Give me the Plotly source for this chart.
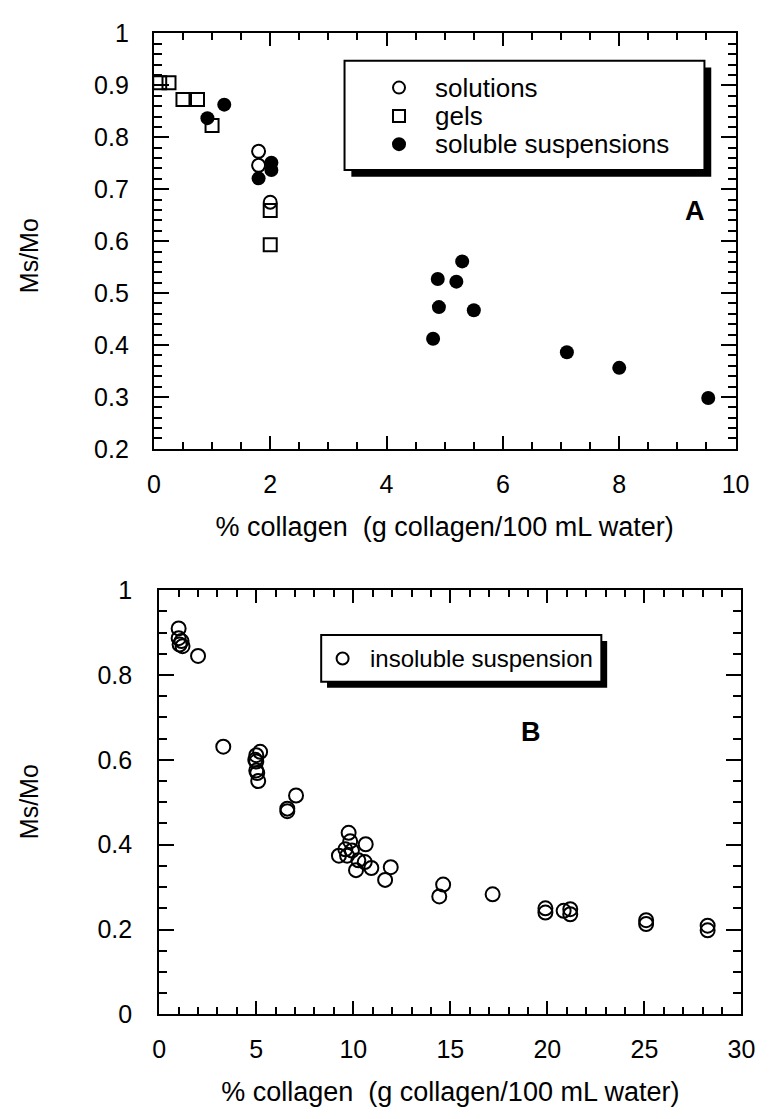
import plotly.graph_objects as go

W, H = 770, 1119

# ---------------- Panel A data ----------------
sol_x = [1.8, 1.8, 2.0]
sol_y = [0.773, 0.746, 0.675]

gel_x = [0.1, 0.26, 0.5, 0.75, 1.0, 2.0, 2.0]
gel_y = [0.905, 0.905, 0.873, 0.873, 0.823, 0.659, 0.593]

ss_x = [0.92, 1.21, 1.8, 2.02, 2.02, 4.8, 4.88, 4.9, 5.2, 5.3, 5.5, 7.1, 8.0, 9.53]
ss_y = [0.837, 0.863, 0.721, 0.751, 0.737, 0.412, 0.527, 0.473, 0.522, 0.561, 0.467, 0.386, 0.356, 0.298]

# ---------------- Panel B data ----------------
ins_x = [1.0, 1.0, 1.15, 1.05, 1.2, 2.0, 3.3,
         5.0, 5.2, 4.95, 5.0, 5.0, 5.05, 5.1,
         6.6, 6.6, 7.05,
         9.26, 9.59, 9.68, 9.76, 9.84, 9.93, 10.14, 10.26, 10.59, 10.64, 10.93,
         11.64, 11.93, 14.43, 14.63, 17.18,
         19.9, 19.9, 20.84, 21.18, 21.18, 25.09, 25.09, 28.26, 28.26]
ins_y = [0.910, 0.887, 0.880, 0.872, 0.868, 0.845, 0.631,
         0.611, 0.619, 0.600, 0.596, 0.575, 0.569, 0.550,
         0.485, 0.479, 0.516,
         0.374, 0.389, 0.374, 0.428, 0.408, 0.386, 0.340, 0.363, 0.359, 0.401, 0.345,
         0.317, 0.347, 0.278, 0.306, 0.283,
         0.250, 0.240, 0.244, 0.248, 0.236, 0.222, 0.213, 0.209, 0.198]

# ---------------- tick labels ----------------
a_xticks = [0, 2, 4, 6, 8, 10]
a_xticktext = ["0", "2", "4", "6", "8", "10"]
a_yticks = [0.2, 0.3, 0.4, 0.5, 0.6, 0.7, 0.8, 0.9, 1.0]
a_yticktext = ["0.2", "0.3", "0.4", "0.5", "0.6", "0.7", "0.8", "0.9", "1"]
b_xticks = [0, 5, 10, 15, 20, 25, 30]
b_xticktext = ["0", "5", "10", "15", "20", "25", "30"]
b_yticks = [0, 0.2, 0.4, 0.6, 0.8, 1.0]
b_yticktext = ["0", "0.2", "0.4", "0.6", "0.8", "1"]

xtitle = "% collagen  (g collagen/100 mL water)"
ytitle = "Ms/Mo"
legA = ["solutions", "gels", "soluble suspensions"]
legB = ["insoluble suspension"]

FONT = "Liberation Sans, Arial, Helvetica, sans-serif"

def px(x):
    return x / W

def py(y):
    return 1 - y / H

fig = go.Figure()

mk_open = dict(symbol="circle-open", size=13, color="black", line=dict(width=2, color="black"))
fig.add_trace(go.Scatter(x=sol_x, y=sol_y, mode="markers", name=legA[0],
                         marker=mk_open, xaxis="x", yaxis="y", showlegend=False))
fig.add_trace(go.Scatter(x=gel_x, y=gel_y, mode="markers", name=legA[1],
                         marker=dict(symbol="square-open", size=13, color="black",
                                     line=dict(width=2, color="black")),
                         xaxis="x", yaxis="y", showlegend=False))
fig.add_trace(go.Scatter(x=ss_x, y=ss_y, mode="markers", name=legA[2],
                         marker=dict(symbol="circle", size=14, color="black"),
                         xaxis="x", yaxis="y", showlegend=False))
fig.add_trace(go.Scatter(x=ins_x, y=ins_y, mode="markers", name=legB[0],
                         marker=dict(symbol="circle-open", size=14, color="black",
                                     line=dict(width=2, color="black")),
                         xaxis="x2", yaxis="y2", showlegend=False))

def axis_common():
    return dict(showgrid=False, zeroline=False, showline=True, linecolor="black",
                linewidth=2, mirror="ticks", ticks="inside", tickcolor="black",
                tickwidth=2, tickfont=dict(family=FONT, size=25, color="black"))

A_dom_x = [px(151), px(749)]
A_dom_y = [py(446), py(20)]
B_dom_x = [px(156.5), px(755)]
B_dom_y = [py(1026), py(591)]

fig.update_layout(
    width=W, height=H, margin=dict(l=0, r=0, t=0, b=0),
    paper_bgcolor="white", plot_bgcolor="white",
    xaxis=dict(**axis_common(), domain=A_dom_x, anchor="y", range=[0, 10],
               tickmode="array", tickvals=a_xticks, ticktext=a_xticktext, ticklen=13,
               ticklabelstandoff=12,
               minor=dict(dtick=0.5, ticklen=7, ticks="inside", tickcolor="black", tickwidth=2),
               title=dict(text=xtitle, font=dict(family=FONT, size=27, color="black"), standoff=20)),
    yaxis=dict(**axis_common(), domain=A_dom_y, anchor="x", range=[0.2, 1.0],
               tickmode="array", tickvals=a_yticks, ticktext=a_yticktext, ticklen=15,
               ticklabelstandoff=18,
               minor=dict(dtick=0.02, ticklen=8, ticks="inside", tickcolor="black", tickwidth=2)),
    xaxis2=dict(**axis_common(), domain=B_dom_x, anchor="y2", range=[0, 30],
                tickmode="array", tickvals=b_xticks, ticktext=b_xticktext, ticklen=13,
                ticklabelstandoff=12,
                minor=dict(dtick=1, ticklen=7, ticks="inside", tickcolor="black", tickwidth=2),
                title=dict(text=xtitle, font=dict(family=FONT, size=27, color="black"), standoff=20)),
    yaxis2=dict(**axis_common(), domain=B_dom_y, anchor="x2", range=[0, 1.0],
                tickmode="array", tickvals=b_yticks, ticktext=b_yticktext, ticklen=15,
                ticklabelstandoff=20,
                minor=dict(dtick=0.05, ticklen=8, ticks="inside", tickcolor="black", tickwidth=2)),
)

shapes = []
annotations = []

def legend_box(x0, y0, x1, y1, sh):
    shapes.append(dict(type="rect", xref="paper", yref="paper",
                       x0=px(x0 + sh), x1=px(x1 + sh), y0=py(y1 + sh), y1=py(y0 + sh),
                       fillcolor="black", line=dict(width=0), layer="above"))
    shapes.append(dict(type="rect", xref="paper", yref="paper",
                       x0=px(x0), x1=px(x1), y0=py(y1), y1=py(y0),
                       fillcolor="white", line=dict(color="black", width=2), layer="above"))

def sym(kind, cx, cy, d, filled):
    shapes.append(dict(type=kind, xref="paper", yref="paper",
                       xsizemode="pixel", ysizemode="pixel",
                       xanchor=px(cx), yanchor=py(cy),
                       x0=-d / 2, x1=d / 2, y0=-d / 2, y1=d / 2,
                       fillcolor="black" if filled else "white",
                       line=dict(color="black", width=2), layer="above"))

def text(t, x, y, size, bold=False, xanchor="left", angle=0):
    annotations.append(dict(text=f"<b>{t}</b>" if bold else t, xref="paper", yref="paper",
                            x=px(x), y=py(y), xanchor=xanchor, yanchor="middle",
                            textangle=angle, showarrow=False,
                            font=dict(family=FONT, size=size, color="black")))

# y-axis titles
text(ytitle, 22, 248, 25, xanchor="center", angle=-90)
text(ytitle, 22, 808, 25, xanchor="center", angle=-90)

# Legend A
legend_box(347, 48, 717, 160, 7)
rowsA = [75.5, 104.5, 133.5]
sym("circle", 403, rowsA[0], 12, False)
sym("rect", 403, rowsA[1], 12, False)
sym("circle", 403, rowsA[2], 12, True)
for t, yy in zip(legA, rowsA):
    text(t, 438, yy, 26)
text("A", 707, 202, 27, bold=True, xanchor="center")

# Legend B
legend_box(323, 637, 611, 685, 6)
sym("circle", 345, 661, 12, False)
text(legB[0], 371, 661, 24)
text("B", 539, 736, 27, bold=True, xanchor="center")

fig.update_layout(shapes=shapes, annotations=annotations)

fig.write_html("out.html")
